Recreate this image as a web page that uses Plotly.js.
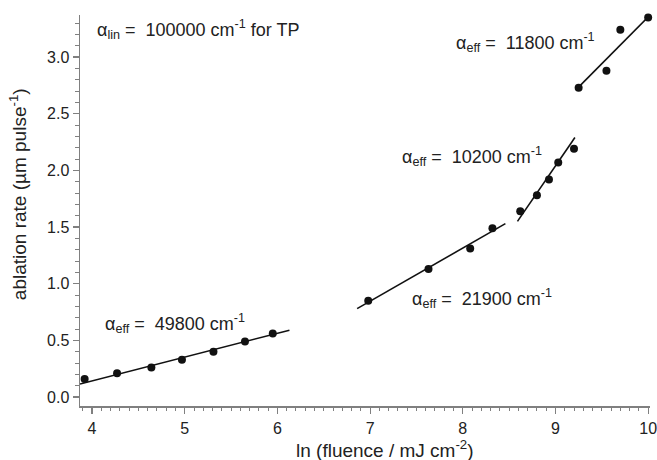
<!DOCTYPE html>
<html><head><meta charset="utf-8">
<script src="https://cdn.plot.ly/plotly-3.0.1.min.js"></script>
<style>html,body{margin:0;padding:0;background:#fff}</style>
</head><body>
<div id="chart" style="width:657px;height:460px"></div>
<script>
// measured points: ln(fluence / mJ cm^-2) vs ablation rate (µm pulse^-1)
const lnFluence = [3.92, 4.27, 4.64, 4.97, 5.31, 5.65, 5.95,
                   6.98, 7.63, 8.08, 8.32,
                   8.62, 8.80, 8.93, 9.03, 9.20,
                   9.25, 9.55, 9.70, 10.0];
const ablationRate = [0.16, 0.21, 0.26, 0.33, 0.40, 0.49, 0.56,
                      0.85, 1.13, 1.31, 1.49,
                      1.64, 1.78, 1.92, 2.07, 2.19,
                      2.73, 2.88, 3.24, 3.35];
// fitted lines (end points)
const fit1X = [3.87, 6.13], fit1Y = [0.115, 0.59];
const fit2X = [6.86, 8.46], fit2Y = [0.78, 1.53];
const fit3X = [8.59, 9.21], fit3Y = [1.55, 2.29];
const fit4X = [9.22, 10.02], fit4Y = [2.71, 3.37];
const NB = '\u00a0';
const labels = ['α<sub>lin</sub> =' + NB + ' 100000 cm<sup>-1</sup> for TP',
                'α<sub>eff</sub> =' + NB + ' 11800 cm<sup>-1</sup>',
                'α<sub>eff</sub> =' + NB + ' 10200 cm<sup>-1</sup>',
                'α<sub>eff</sub> =' + NB + ' 21900 cm<sup>-1</sup>',
                'α<sub>eff</sub> =' + NB + ' 49800 cm<sup>-1</sup>'];
const labelX = [4.03, 7.90, 7.32, 7.43, 4.12];
const labelY = [3.24, 3.13, 2.12, 0.87, 0.65];
const xTitle = 'ln (fluence / mJ cm<sup>-2</sup>)';
const yTitle = 'ablation rate (µm pulse<sup>-1</sup>)';

const lineStyle = {color:'#111', width:1.6};
const fits = [[fit1X,fit1Y],[fit2X,fit2Y],[fit3X,fit3Y],[fit4X,fit4Y]].map(f => ({
  x:f[0], y:f[1], mode:'lines', line:lineStyle, showlegend:false, hoverinfo:'skip', cliponaxis:false
}));
const pts = {x:lnFluence, y:ablationRate, mode:'markers', type:'scatter',
  marker:{color:'#111', size:8}, showlegend:false, cliponaxis:false};

const axCommon = {
  showline:true, linecolor:'#808080', linewidth:1.5, ticks:'outside', ticklen:6, tickwidth:1.2,
  tickcolor:'#808080', showgrid:false, zeroline:false, tickfont:{size:16, color:'#222'},
  ticklabeloverflow:'allow',
  minor:{ticks:'outside', ticklen:3.5, tickwidth:1, tickcolor:'#808080', showgrid:false}
};
const annFont = {size:18, color:'#222'};
const titleFont = {size:19, color:'#222'};
const layout = {
  width:657, height:460,
  margin:{l:80, r:7, t:15, b:54},
  paper_bgcolor:'#fff', plot_bgcolor:'#fff',
  font:{family:'"Liberation Sans", Arial, sans-serif', color:'#222', size:16},
  xaxis:Object.assign({}, axCommon, {range:[3.87,10.02], dtick:1, tick0:0, ticklabelstandoff:1,
    minor:Object.assign({}, axCommon.minor, {dtick:0.1})}),
  yaxis:Object.assign({}, axCommon, {range:[-0.079,3.371], dtick:0.5, tick0:0, tickformat:'.1f',
    minor:Object.assign({}, axCommon.minor, {dtick:0.1})}),
  annotations: labels.map((t,i) => ({x:labelX[i], y:labelY[i], xref:'x', yref:'y', text:t,
    showarrow:false, xanchor:'left', yanchor:'middle', font:annFont})).concat([
    {x:7.16, y:0, xref:'x', yref:'paper', yshift:-43, text:xTitle, showarrow:false,
     xanchor:'center', yanchor:'middle', font:titleFont},
    {x:0, y:1.79, xref:'paper', yref:'y', xshift:-62, text:yTitle, showarrow:false, textangle:-90,
     xanchor:'center', yanchor:'middle', font:titleFont}
  ])
};
Plotly.newPlot('chart', fits.concat([pts]), layout, {displayModeBar:false, staticPlot:true});
</script>
</body></html>
